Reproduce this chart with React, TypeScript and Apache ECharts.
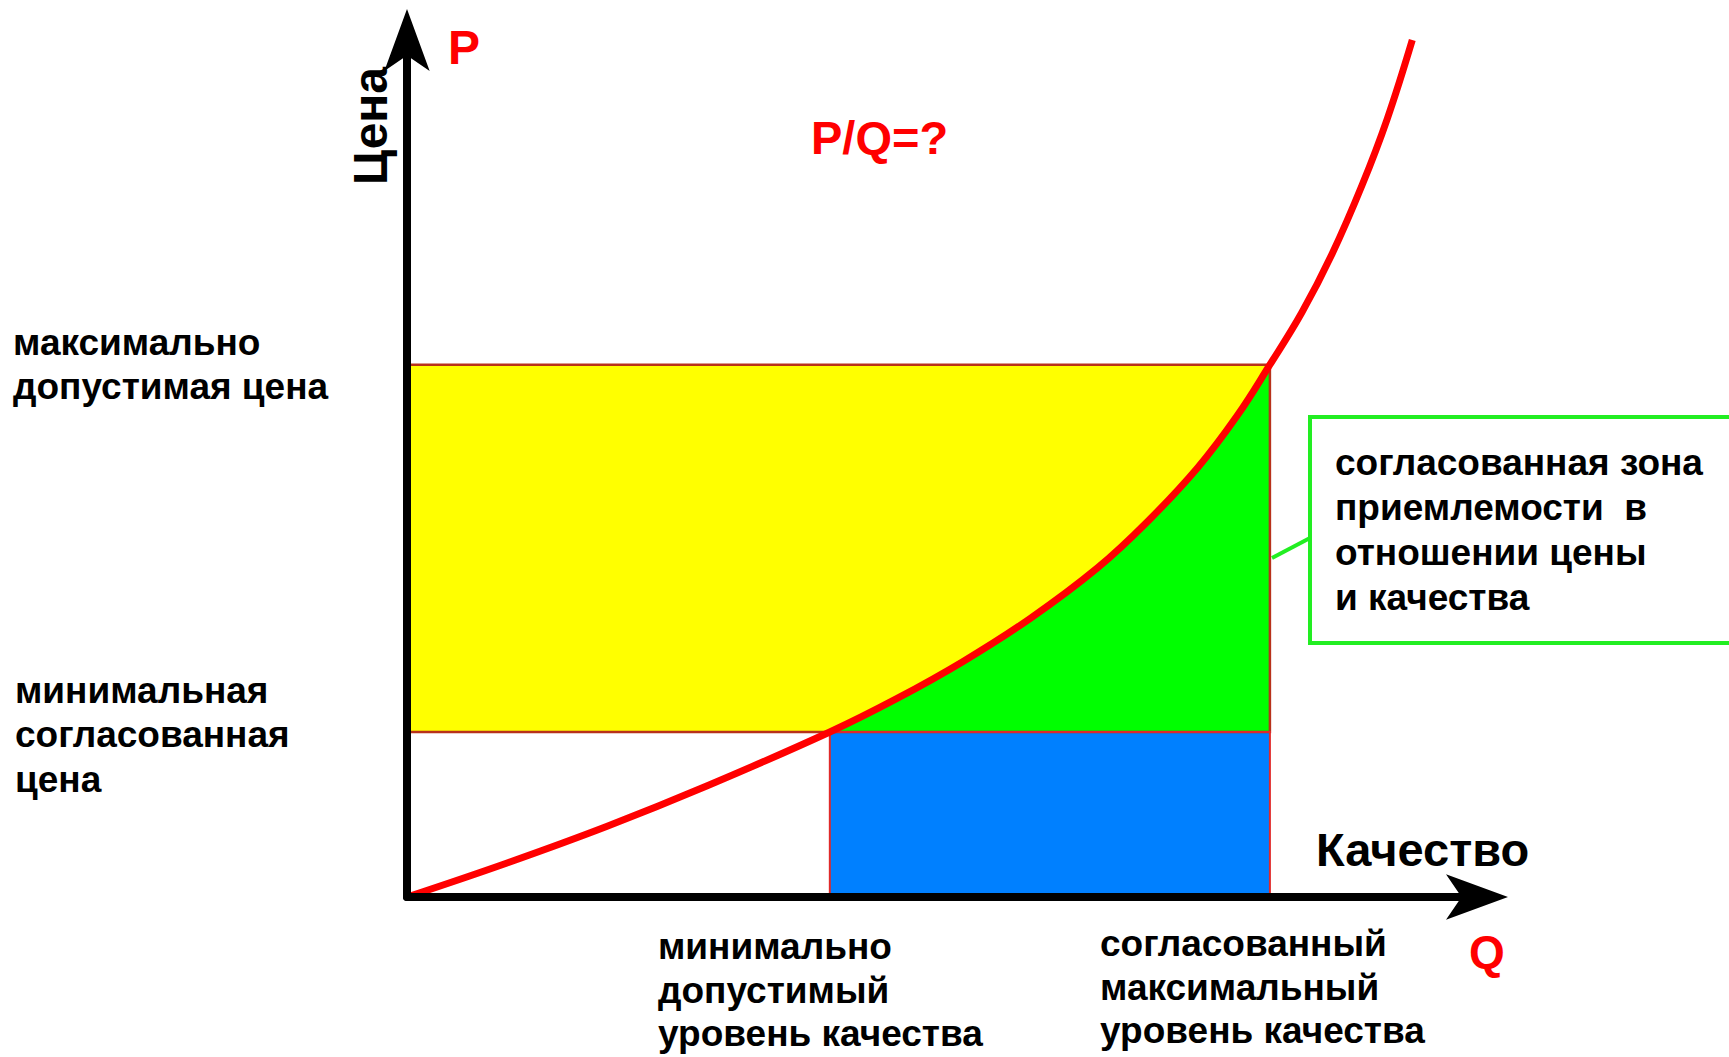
import React, { useEffect, useRef } from 'react';
import * as echarts from 'echarts';

// Price–quality curve (Q = quality, P = price)
const curveQuality = [0, 11.6, 23.2, 34.8, 49, 56.8, 64.4, 72.2, 80, 85.8, 91.6, 96.2, 100, 103.7, 107.2, 110.7, 113.6, 116.5];
const curvePrice = [0, 6.4, 13.3, 20.9, 31, 37.3, 44.2, 52.3, 61.8, 70.5, 80.6, 90.4, 100, 109.8, 120.8, 133.8, 146.2, 161];

// [minimal agreed price, maximal allowed price]
const priceLevels = [31, 100];
// [minimal allowed quality, agreed maximal quality]
const qualityLevels = [49, 100];

const qualityMax = 124;
const priceMax = 161;

const priceLabels = ['максимально\nдопустимая цена', 'минимальная\nсогласованная\nцена'];
const qualityLabels = ['минимально\nдопустимый\nуровень качества', 'согласованный\nмаксимальный\nуровень качества'];
const zoneLabel = ['согласованная зона', 'приемлемости  в', 'отношении цены', 'и качества'];
const priceAxisName = 'Цена';
const qualityAxisName = 'Качество';
const priceSymbol = 'P';
const qualitySymbol = 'Q';
const ratioLabel = 'P/Q=?';

const FONT = '"Liberation Sans", Arial, sans-serif';

export default function App() {
  const ref = useRef<HTMLDivElement>(null);

  useEffect(() => {
    if (!ref.current) return;
    const chart = echarts.init(ref.current, undefined, { renderer: 'svg' });

    const curve = curveQuality.map((q, i) => [q, curvePrice[i]]);
    const greenPts = curve.filter(([q]) => q >= qualityLevels[0] && q <= qualityLevels[1]);

    const rects = [
      [0, priceLevels[0], qualityLevels[1], priceLevels[1]], // yellow zone
      [qualityLevels[0], 0, qualityLevels[1], priceLevels[0]], // blue zone
    ];
    const fills = ['#ffff00', '#0080ff'];
    const strokes = ['#b8321a', '#e02a2a'];

    const rectRender = (mode: 'fill' | 'stroke') => (params: any, api: any) => {
      const x0 = api.value(0), y0 = api.value(1), x1 = api.value(2), y1 = api.value(3);
      const a = api.coord([x0, y1]);
      const b = api.coord([x1, y0]);
      const i = params.dataIndex;
      return {
        type: 'rect',
        shape: { x: a[0], y: a[1], width: b[0] - a[0], height: b[1] - a[1] },
        style: mode === 'fill'
          ? { fill: fills[i], stroke: 'none' }
          : { fill: 'none', stroke: strokes[i], lineWidth: i === 0 ? 2.5 : 2 },
      };
    };

    const axisCommon = {
      type: 'value',
      axisLine: {
        show: true,
        onZero: false,
        lineStyle: { color: '#000', width: 8 },
        symbol: ['none', 'arrow'],
        symbolSize: [34, 62],
        symbolOffset: [0, 31],
      },
      axisTick: { show: false },
      axisLabel: { show: false },
      splitLine: { show: false },
      z: 10,
    };

    const txt = (text: string, x: number, y: number, size: number, extra: any = {}, rotation = 0) => ({
      type: 'text',
      x,
      y,
      rotation,
      z: 100,
      style: {
        text,
        fill: '#000',
        fontSize: size,
        fontWeight: 'bold',
        fontFamily: FONT,
        align: 'left',
        verticalAlign: 'top',
        ...extra,
      },
    });

    chart.setOption({
      animation: false,
      backgroundColor: '#ffffff',
      grid: { left: 407, right: 252, top: 40, bottom: 160, containLabel: false },
      xAxis: { ...axisCommon, min: 0, max: qualityMax },
      yAxis: { ...axisCommon, min: 0, max: priceMax },
      series: [
        {
          type: 'custom',
          z: 1,
          renderItem: rectRender('fill'),
          encode: { x: [0, 2], y: [1, 3] },
          data: rects,
          silent: true,
        },
        {
          type: 'line',
          z: 2,
          data: greenPts,
          smooth: 0.4,
          symbol: 'none',
          lineStyle: { width: 0 },
          areaStyle: { color: '#00ff00', opacity: 1, origin: priceLevels[0] },
          silent: true,
        },
        {
          type: 'custom',
          z: 3,
          renderItem: rectRender('stroke'),
          encode: { x: [0, 2], y: [1, 3] },
          data: rects,
          silent: true,
        },
        {
          type: 'line',
          z: 4,
          data: curve,
          smooth: 0.4,
          symbol: 'none',
          lineStyle: { color: '#ff0000', width: 7 },
          silent: true,
        },
      ],
      graphic: [
        txt(priceAxisName, 370, 126, 48, { align: 'center', verticalAlign: 'middle' }, Math.PI / 2),
        txt(priceSymbol, 448, 47, 48, { fill: '#ff0000', verticalAlign: 'middle' }),
        txt(ratioLabel, 811, 137, 47, { fill: '#ff0000', verticalAlign: 'middle' }),
        txt(priceLabels[0], 13, 320, 37, { lineHeight: 44 }),
        txt(priceLabels[1], 15, 668, 37, { lineHeight: 44.5 }),
        txt(qualityLabels[0], 658, 925, 37, { lineHeight: 43.5 }),
        txt(qualityLabels[1], 1100, 922, 37, { lineHeight: 43.5 }),
        txt(qualityAxisName, 1316, 849, 47, { verticalAlign: 'middle' }),
        txt(qualitySymbol, 1469, 952, 46, { fill: '#ff0000', verticalAlign: 'middle' }),
        {
          type: 'rect',
          z: 100,
          shape: { x: 1310, y: 417, width: 440, height: 226 },
          style: { fill: '#ffffff', stroke: '#22ee22', lineWidth: 4 },
        },
        {
          type: 'line',
          z: 100,
          shape: { x1: 1272, y1: 558, x2: 1310, y2: 538 },
          style: { stroke: '#22ee22', lineWidth: 4 },
        },
        txt(zoneLabel.join('\n'), 1335, 440, 37, { lineHeight: 45 }),
      ],
    });

    return () => chart.dispose();
  }, []);

  return (
    <div
      ref={ref}
      style={{ position: 'absolute', left: 0, top: 0, width: 1729, height: 1057, background: '#fff' }}
    />
  );
}
